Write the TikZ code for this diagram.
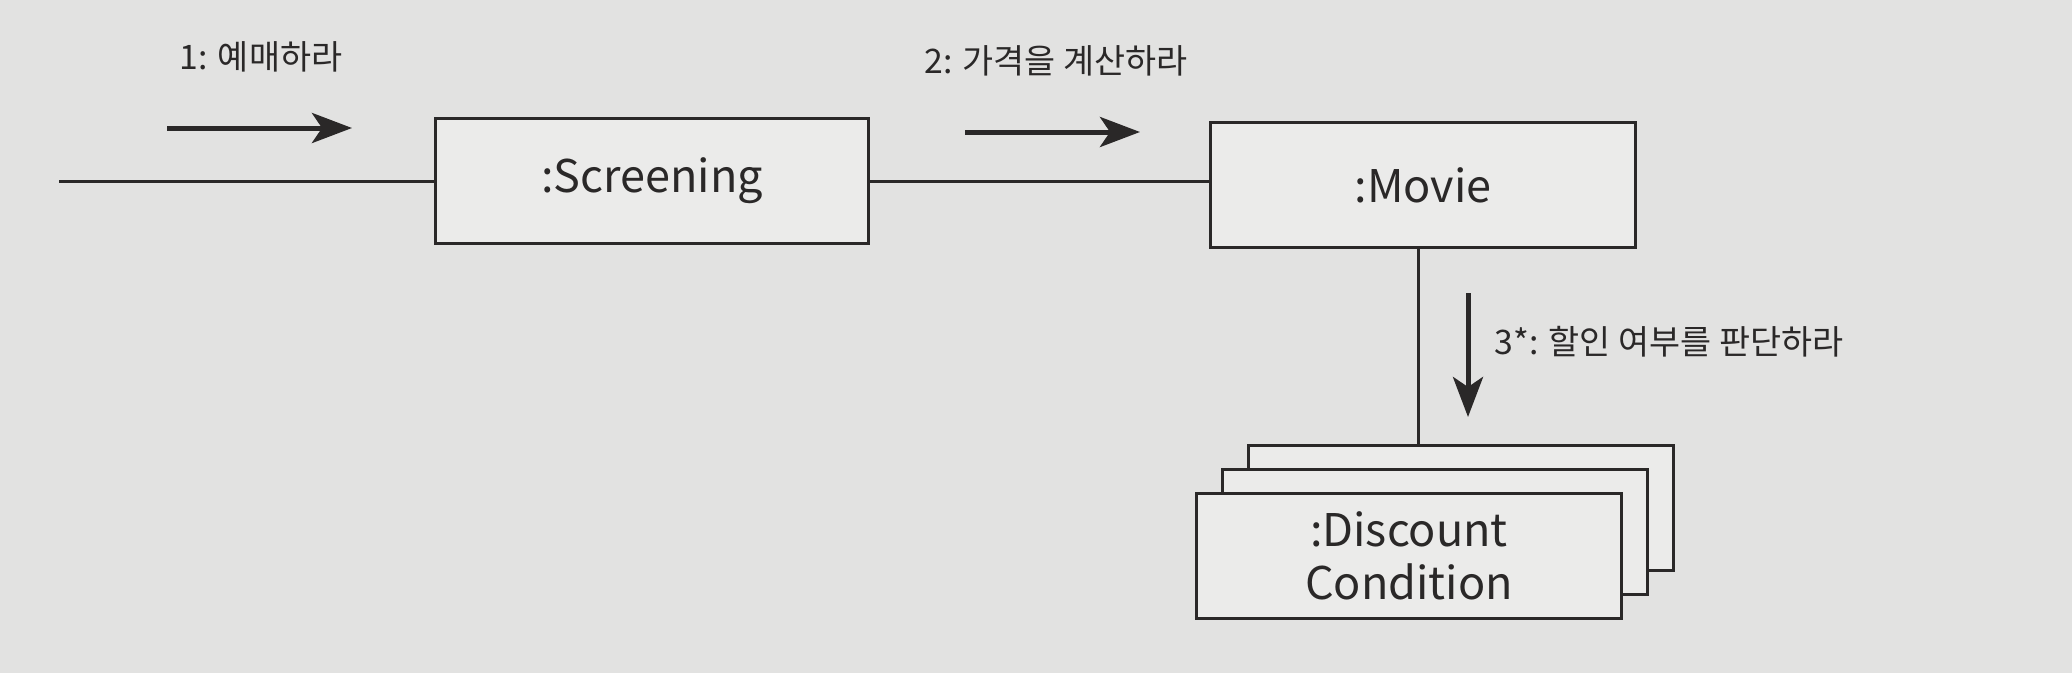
\documentclass[tikz,border=0pt]{standalone}
\usepackage{fontspec}
\setmainfont{Noto Sans CJK KR}
\usetikzlibrary{arrows.meta}

\definecolor{paper}{RGB}{226,226,225}
\definecolor{boxfill}{RGB}{235,235,234}
\definecolor{ink}{RGB}{42,40,40}

\tikzset{
	obj/.style={draw=ink, line width=1.2pt, fill=boxfill, minimum width=170pt, minimum height=50pt,
		inner sep=0pt, align=center, text=ink, font=\fontsize{18}{21}\selectfont},
	link/.style={draw=ink, line width=1.2pt},
	msg/.style={draw=ink, line width=2pt, -{Stealth[length=16pt,width=12pt,inset=4pt]}},
	lbl/.style={text=ink, font=\fontsize{13.5}{16}\selectfont}
}

\begin{document}
\begin{tikzpicture}[x=0.4pt,y=-0.4pt]

	\fill[paper] (0,0) rectangle (2072,673);
	\useasboundingbox (0,0) rectangle (2072,673);

	% objects
	\node[obj, minimum width=173pt] (screening) at (652,181) {:Screening};
	\node[obj] (movie) at (1423,185) {:Movie};

	\def \dx {26}
	\def \dy {24}
	\node[obj] (cond3) at (1409+2*\dx,556-2*\dy) {};
	\node[obj] (cond2) at (1409+\dx,556-\dy) {};
	\node[obj] (cond1) at (1409,556) {:Discount\\Condition};

	% links
	\coordinate (start) at (59,181);
	\coordinate (mv) at ([xshift=-2pt]movie.south);
	\draw[link] (start) -- (screening.west);
	\draw[link] (screening.east) -- (screening.east -| movie.west);
	\draw[link] (mv) -- (mv |- cond3.north);

	% messages
	\coordinate (m1s) at (167,128);
	\coordinate (m1e) at (352,128);
	\draw[msg] (m1s) -- (m1e);
	\node[lbl] (m1) at (261,57) {1: 예매하라};

	\coordinate (m2s) at (965,132);
	\coordinate (m2e) at (1140,132);
	\draw[msg] (m2s) -- (m2e);
	\node[lbl] (m2) at (1056,61) {2: 가격을 계산하라};

	\coordinate (m3s) at (1468,293);
	\coordinate (m3e) at (1468,417);
	\draw[msg] (m3s) -- (m3e);
	\node[lbl, anchor=west] (m3) at (1486,342) {3*: 할인 여부를 판단하라};

\end{tikzpicture}
\end{document}
